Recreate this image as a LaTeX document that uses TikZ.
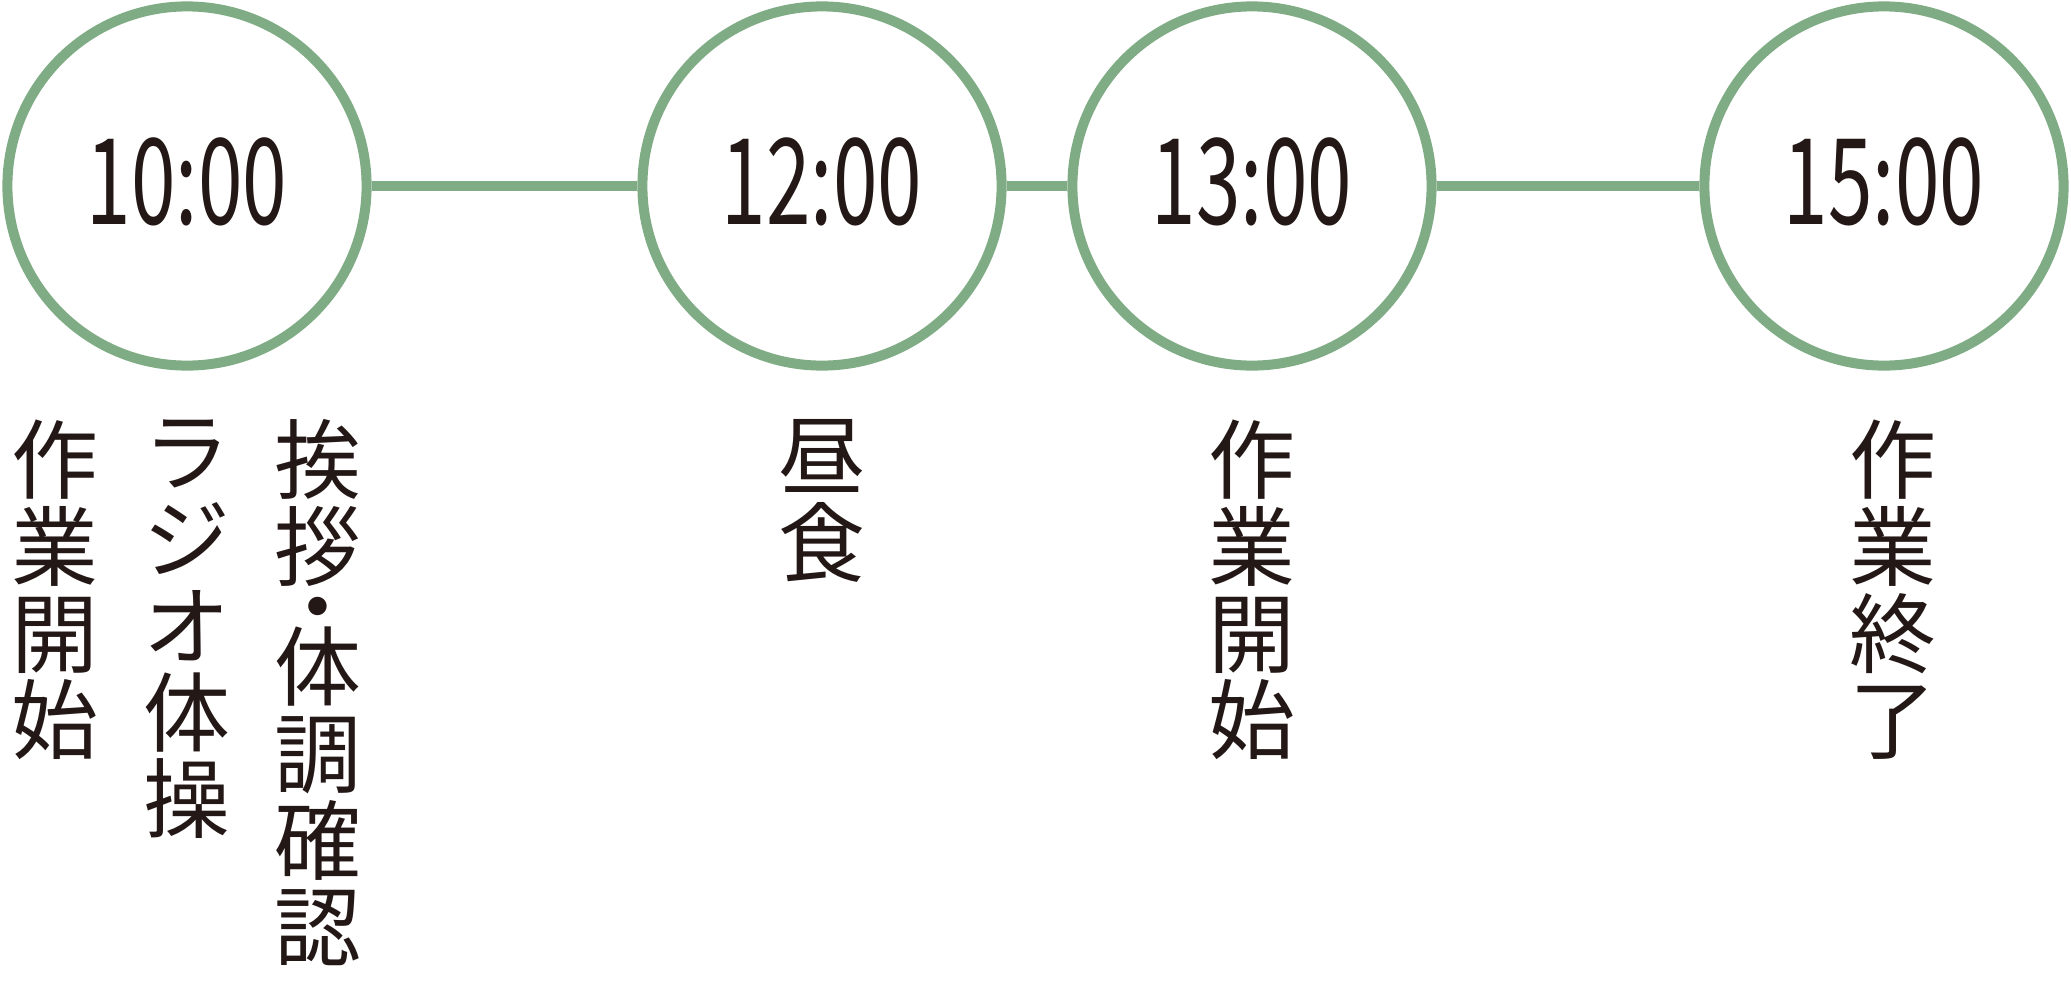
\documentclass[tikz,border=0pt]{standalone}
\usepackage{fontspec}
\setmainfont{Noto Sans CJK JP}
\usepackage{xcolor}
\definecolor{leaf}{RGB}{127,172,133}
\definecolor{ink}{RGB}{35,24,21}
\newcommand{\clock}[1]{\raisebox{0.09cm}{\scalebox{0.67}[1]{#1}}}
\newcommand{\tatefont}{\fontsize{24.7}{24.7}\selectfont\setlength{\lineskiplimit}{-100pt}}

\begin{document}
\begin{tikzpicture}[x=0.01cm, y=-0.01cm,
    hour/.style={circle, draw=leaf, line width=0.1cm, fill=white, minimum size=3.59cm,
      inner sep=0pt, text=ink, font=\fontsize{34}{34}\selectfont},
    link/.style={leaf, line width=0.1cm},
    tate/.style={anchor=north, inner sep=0pt, align=center, text=ink, font=\tatefont}]
        \useasboundingbox (0,0) rectangle (2071,984);
      % circles for the times
      \node [hour] (t10) at (187,186) {\clock{10:00}};
      \node [hour] (t12) at (822,186) {\clock{12:00}};
      \node [hour] (t13) at (1252,186) {\clock{13:00}};
      \node [hour] (t15) at (1884,186) {\clock{15:00}};
      \draw [link] (t10) -- (t12);
      \draw [link] (t12) -- (t13);
      \draw [link] (t13) -- (t15);
      % vertical labels
      \node [tate] (w10a) at (55,419) {作\\業\\開\\始};
      \node [tate] (w10b) at (187,419) {ラ\\ジ\\オ\\体\\操};
      \node [tate] (w10c) at (318,419) {挨\\拶\\[-0.27cm]・\\[-0.27cm]体\\調\\確\\認};
      \node [tate] (w12) at (822,419) {昼\\食};
      \node [tate] (w13) at (1252,419) {作\\業\\開\\始};
      \node [tate] (w15) at (1893,419) {作\\業\\終\\了};
    \end{tikzpicture}
\end{document}
